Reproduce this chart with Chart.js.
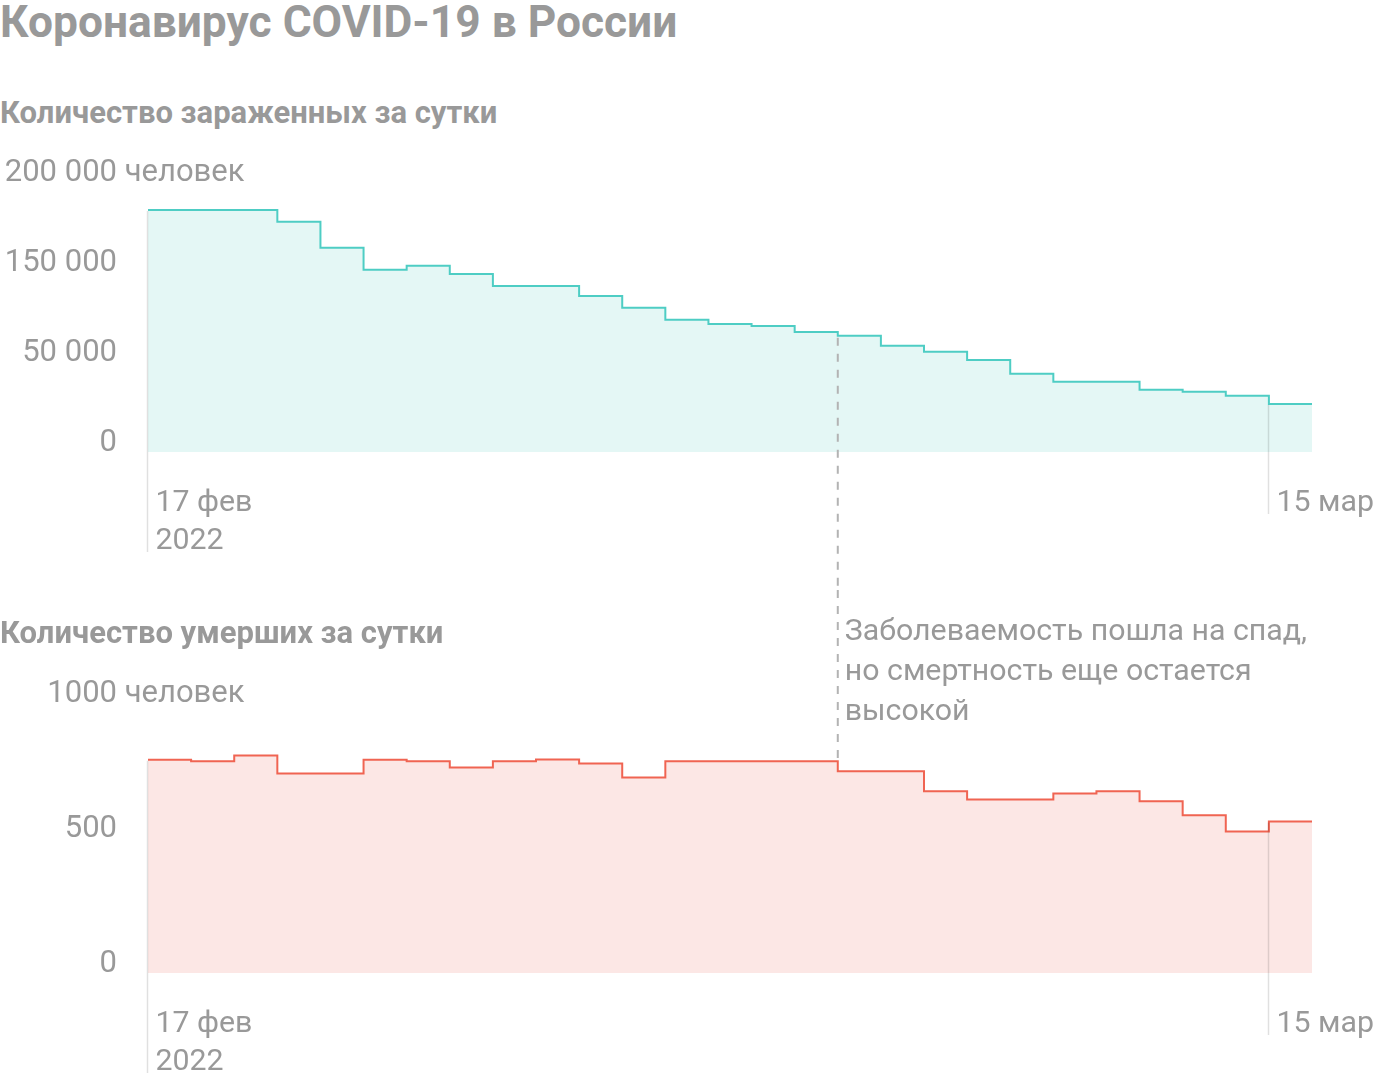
<!DOCTYPE html>
<html lang="ru">
<head>
<meta charset="utf-8">
<title>Коронавирус COVID-19 в России</title>
<script src="https://cdn.jsdelivr.net/npm/chart.js@4.4.1/dist/chart.umd.min.js"></script>
<style>
  body { margin: 0; background: #fff; font-family: Roboto, sans-serif; color: #999; }
  #page { position: relative; width: 1400px; height: 1084px; overflow: hidden; }
  .txt { position: absolute; left: 0; line-height: 1; white-space: nowrap; font-weight: 700; }
  #title { top: 0; font-size: 44.3px; }
  .sub { font-size: 31px; }
  #sub1 { top: 97px; }
  #sub2 { top: 617px; }
  .box { position: absolute; left: 0; width: 1400px; }
  #boxCases { top: 150px; height: 440px; }
  #boxDeaths { top: 590px; height: 494px; }
</style>
</head>
<body>
<div id="page">
  <div id="boxCases" class="box"><canvas id="casesChart"></canvas></div>
  <div id="boxDeaths" class="box"><canvas id="deathsChart"></canvas></div>
  <div id="title" class="txt">Коронавирус COVID-19 в России</div>
  <div id="sub1" class="txt sub">Количество зараженных за сутки</div>
  <div id="sub2" class="txt sub">Количество умерших за сутки</div>
</div>
<script>
// дни: 17 фев – 16 мар 2022 (последний день нужен только для конца ступеньки)
const dates = [
  "17 фев", "18 фев", "19 фев", "20 фев", "21 фев", "22 фев", "23 фев",
  "24 фев", "25 фев", "26 фев", "27 фев", "28 фев", "1 мар", "2 мар",
  "3 мар", "4 мар", "5 мар", "6 мар", "7 мар", "8 мар", "9 мар",
  "10 мар", "11 мар", "12 мар", "13 мар", "14 мар", "15 мар", "16 мар"
];

const cases = [
  179300, 179300, 179300, 170600, 151300, 135000, 138000, 131900, 123000, 123000,
  115600, 106900, 98000, 94800, 93300, 88900, 86100, 78700, 74300, 68100,
  58000, 52100, 52100, 46100, 44700, 41700, 35600
];

const deaths = [
  790, 784, 806, 739, 739, 790, 784, 761, 784, 791,
  776, 724, 784, 784, 784, 784, 747, 747, 673, 643,
  643, 665, 673, 636, 584, 524, 561
];

const casesTicks = [0, 66667, 133333, 200000];
const casesTickLabels = ["0", "50 000", "150 000", "200 000"];
const deathsTicks = [0, 500, 1000];
const deathsTickLabels = ["0", "500", "1000"];
const unitLabel = "человек";

const dateMarks = [0, 26];
const yearLabel = "2022";
const noteIndex = 16;
const noteLines = [
  "Заболеваемость пошла на спад,",
  "но смертность еще остается",
  "высокой"
];

const TEXT = "#999999";
const FONT = "30.3px Roboto";
const TICK_FONT = "31px Roboto";

const decor = {
  id: "decor",
  afterDatasetsDraw(chart, args, opts) {
    const ctx = chart.ctx;
    const x = chart.scales.x;
    const y = chart.scales.y;
    const vals = opts.values;
    const base = y.getPixelForValue(0);

    ctx.save();
    ctx.fillStyle = TEXT;
    ctx.textBaseline = "middle";
    ctx.textAlign = "left";

    // подписи оси Y
    ctx.font = TICK_FONT;
    opts.ticks.forEach((t, i) => {
      const py = y.getPixelForValue(t) - 9;
      const num = opts.tickLabels[i];
      const w = ctx.measureText(num).width;
      const txt = i === opts.ticks.length - 1 ? num + " " + unitLabel : num;
      ctx.fillText(txt, 117 - w, py);
    });

    // отметки дат
    ctx.font = FONT;
    dateMarks.forEach((idx) => {
      const px = Math.round(x.getPixelForValue(idx)) - 0.5;
      const lines = idx === 0 ? [dates[idx], yearLabel] : [dates[idx]];
      const top = y.getPixelForValue(vals[idx]) + 1;
      const end = base + 51 + 38 * (lines.length - 1) + 11;
      ctx.strokeStyle = "rgba(0,0,0,0.12)";
      ctx.lineWidth = 1.5;
      ctx.beginPath();
      ctx.moveTo(px, top);
      ctx.lineTo(px, end);
      ctx.stroke();
      lines.forEach((l, k) => ctx.fillText(l, px + 8, base + 51 + 38 * k));
    });

    // пунктир
    const nx = x.getPixelForValue(noteIndex);
    ctx.strokeStyle = "#b3b3b3";
    ctx.lineWidth = 2;
    ctx.setLineDash([8, 8]);
    ctx.beginPath();
    if (opts.part === "top") {
      ctx.moveTo(nx, y.getPixelForValue(vals[noteIndex]) + 2);
      ctx.lineTo(nx, chart.height);
    } else {
      ctx.moveTo(nx, 0);
      ctx.lineTo(nx, y.getPixelForValue(Math.max(vals[noteIndex - 1], vals[noteIndex])) - 1);
    }
    ctx.stroke();
    ctx.setLineDash([]);

    if (opts.part === "bottom") {
      const t0 = chart.chartArea.top - 71;
      noteLines.forEach((l, k) => ctx.fillText(l, nx + 7, t0 + 40 * k));
    }
    ctx.restore();
  }
};

function stepChart(canvasId, values, line, area, yMax, ticks, tickLabels, pad, part) {
  const data = values.concat([values[values.length - 1]]);
  return new Chart(document.getElementById(canvasId), {
    type: "line",
    data: {
      labels: dates,
      datasets: [{
        data: data,
        stepped: true,
        borderColor: line,
        borderWidth: 2,
        backgroundColor: area,
        fill: "origin",
        pointRadius: 0,
        tension: 0
      }]
    },
    options: {
      responsive: true,
      maintainAspectRatio: false,
      animation: false,
      events: [],
      layout: { padding: pad },
      scales: {
        x: { type: "category", offset: false, display: false },
        y: { min: 0, max: yMax, display: false }
      },
      plugins: {
        legend: { display: false },
        tooltip: { enabled: false },
        decor: { values: data, ticks: ticks, tickLabels: tickLabels, part: part }
      }
    },
    plugins: [decor]
  });
}

Promise.all([document.fonts.load(FONT), document.fonts.load(TICK_FONT)]).then(() => {
  stepChart("casesChart", cases, "#4ecdc4", "#e4f7f5", 200000,
    casesTicks, casesTickLabels, { left: 148, right: 88, top: 32, bottom: 138 }, "top");
  stepChart("deathsChart", deaths, "#f06452", "#fce7e5", 1000,
    deathsTicks, deathsTickLabels, { left: 148, right: 88, top: 113, bottom: 111 }, "bottom");
});
</script>
</body>
</html>
